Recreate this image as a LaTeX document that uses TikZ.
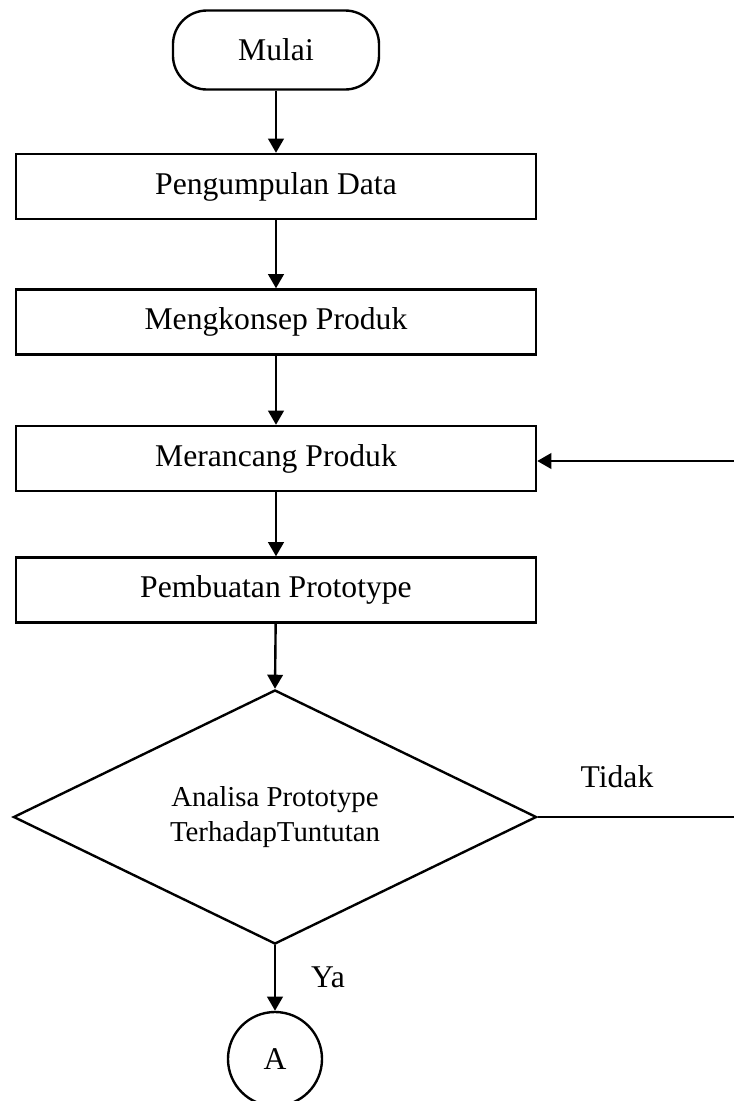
\documentclass[tikz,border=0pt]{standalone}
\usepackage{fontspec}
\setmainfont{Liberation Serif}
\usetikzlibrary{shapes.geometric,arrows.meta}
\begin{document}
\begin{tikzpicture}[x=0.025cm,y=-0.025cm,
  line width=1.7pt,
  every node/.style={font=\fontsize{22.5}{26}\selectfont},
  proc/.style={draw,rectangle,minimum width=13cm,minimum height=1.625cm,inner sep=0pt},
  term/.style={draw,rectangle,rounded corners=0.85cm,minimum width=5.15cm,minimum height=1.975cm,inner sep=0pt},
  dec/.style={draw,diamond,aspect=2.06,minimum width=13.075cm,minimum height=6.35cm,inner sep=0pt,font=\fontsize{20.5}{25}\selectfont},
  conn/.style={draw,circle,minimum size=2.35cm,inner sep=0pt},
  lbl/.style={anchor=base,inner sep=0pt},
  arr/.style={-{Triangle[length=10pt,width=11pt]}}]
\useasboundingbox (0,0) rectangle (734,1101);
\node[term] (start) at (276,50) {Mulai};
\node[proc] (b1) at (276,186.5) {Pengumpulan Data};
\node[proc] (b2) at (276,322) {Mengkonsep Produk};
\node[proc] (b3) at (276,458.5) {Merancang Produk};
\node[proc] (b4) at (276,590) {Pembuatan Prototype};
\node[dec] (d) at (275,817) {\raisebox{5pt}{\begin{tabular}{@{}c@{}}Analisa Prototype\\TerhadapTuntutan\end{tabular}}};
\node[conn] (a) at (275,1059) {A};
\node[lbl] (tidak) at (617,787) {Tidak};
\node[lbl] (ya) at (328,987) {Ya};
\coordinate (r1) at (740,817);
\coordinate (r2) at (740,461);
\draw[arr] (start) -- (b1);
\draw[arr] (b1) -- (b2);
\draw[arr] (b2) -- (b3);
\draw[arr] (b3) -- (b4);
\draw[arr] (b4) -- (d.north);
\draw[arr] (d.south) -- (a);
\draw[arr] (d.east) -- (r1) -- (r2) -- (b3.east |- r2);
\end{tikzpicture}
\end{document}
